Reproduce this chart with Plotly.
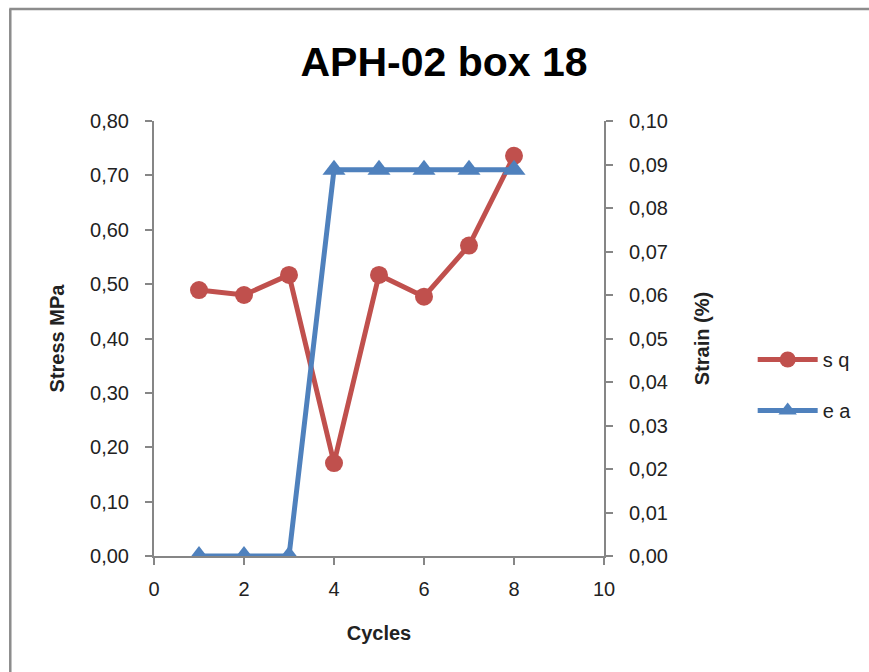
import plotly.graph_objects as go

cycles = [1, 2, 3, 4, 5, 6, 7, 8]
stress_sq = [0.489, 0.480, 0.517, 0.171, 0.517, 0.477, 0.571, 0.736]
strain_ea = [0.0, 0.0, 0.0, 0.0888, 0.0888, 0.0888, 0.0888, 0.0888]

RED = "#C0504D"
BLUE = "#4F81BD"
AX = "#868686"
FONT = "Liberation Sans"

fig = go.Figure()
fig.add_trace(go.Scatter(x=cycles, y=stress_sq, name="s q", mode="lines+markers",
                         legendgroup="a",
                         line=dict(color=RED, width=5),
                         marker=dict(symbol="circle", size=18, color=RED), yaxis="y"))
fig.add_trace(go.Scatter(x=cycles, y=strain_ea, name="e a", mode="lines+markers",
                         legendgroup="b",
                         line=dict(color=BLUE, width=5),
                         marker=dict(symbol="triangle-up", size=20, color=BLUE), yaxis="y2"))

L, R, T, B = 154, 608, 121, 556
W, H = 869, 672
pw, ph = R - L, B - T

def px(x):
    return (x - L) / pw

def py(y):
    return (B - y) / ph

fig.update_layout(
    width=W, height=H,
    margin=dict(l=L, r=W - R, t=T, b=H - B, pad=0),
    paper_bgcolor="white", plot_bgcolor="white",
    separators=",.",
    font=dict(family=FONT, size=20, color="#222"),
    title=dict(text="<b>APH-02 box 18</b>", x=444 / W, xanchor="center", xref="container",
               y=1 - 62 / H, yanchor="middle", font=dict(size=41, color="black", family=FONT)),
    xaxis=dict(range=[0, 10], tickvals=[0, 2, 4, 6, 8, 10], showgrid=False, zeroline=False,
               showline=True, linecolor=AX, linewidth=2, ticks="outside", ticklen=7,
               tickcolor=AX, tickwidth=2, automargin=False, ticklabelstandoff=7,
               title=dict(text="<b>Cycles</b>", font=dict(size=20), standoff=27)),
    yaxis=dict(range=[0, 0.8], dtick=0.1, tickformat=".2f", showgrid=False, zeroline=False,
               showline=True, linecolor=AX, linewidth=2, ticks="outside", ticklen=7,
               tickcolor=AX, tickwidth=2, automargin=False, ticklabelstandoff=12,
               title=dict(text="<b>Stress MPa</b>", font=dict(size=20), standoff=20)),
    yaxis2=dict(range=[0, 0.1], dtick=0.01, tickformat=".2f", overlaying="y", side="right",
                showgrid=False, zeroline=False, showline=True, linecolor=AX, linewidth=2,
                ticks="outside", ticklen=7, tickcolor=AX, tickwidth=2, automargin=False,
                ticklabelstandoff=12,
                title=dict(text="<b>Strain (%)</b>", font=dict(size=20), standoff=28)),
    legend=dict(x=px(758), y=py(340), xanchor="left", yanchor="top",
                font=dict(size=20), itemwidth=60, tracegroupgap=22,
                bgcolor="rgba(0,0,0,0)"),
    shapes=[
        dict(type="line", xref="paper", yref="paper", x0=px(9), x1=px(9), y0=py(9), y1=py(700),
             line=dict(color="#8c8c8c", width=2.5)),
        dict(type="line", xref="paper", yref="paper", x0=px(8), x1=px(900), y0=py(9), y1=py(9),
             line=dict(color="#8c8c8c", width=2.5)),
    ],
)

fig.write_html("out.html", config={"displayModeBar": False},
               post_script="document.body.style.margin='0';document.body.style.padding='0';")
